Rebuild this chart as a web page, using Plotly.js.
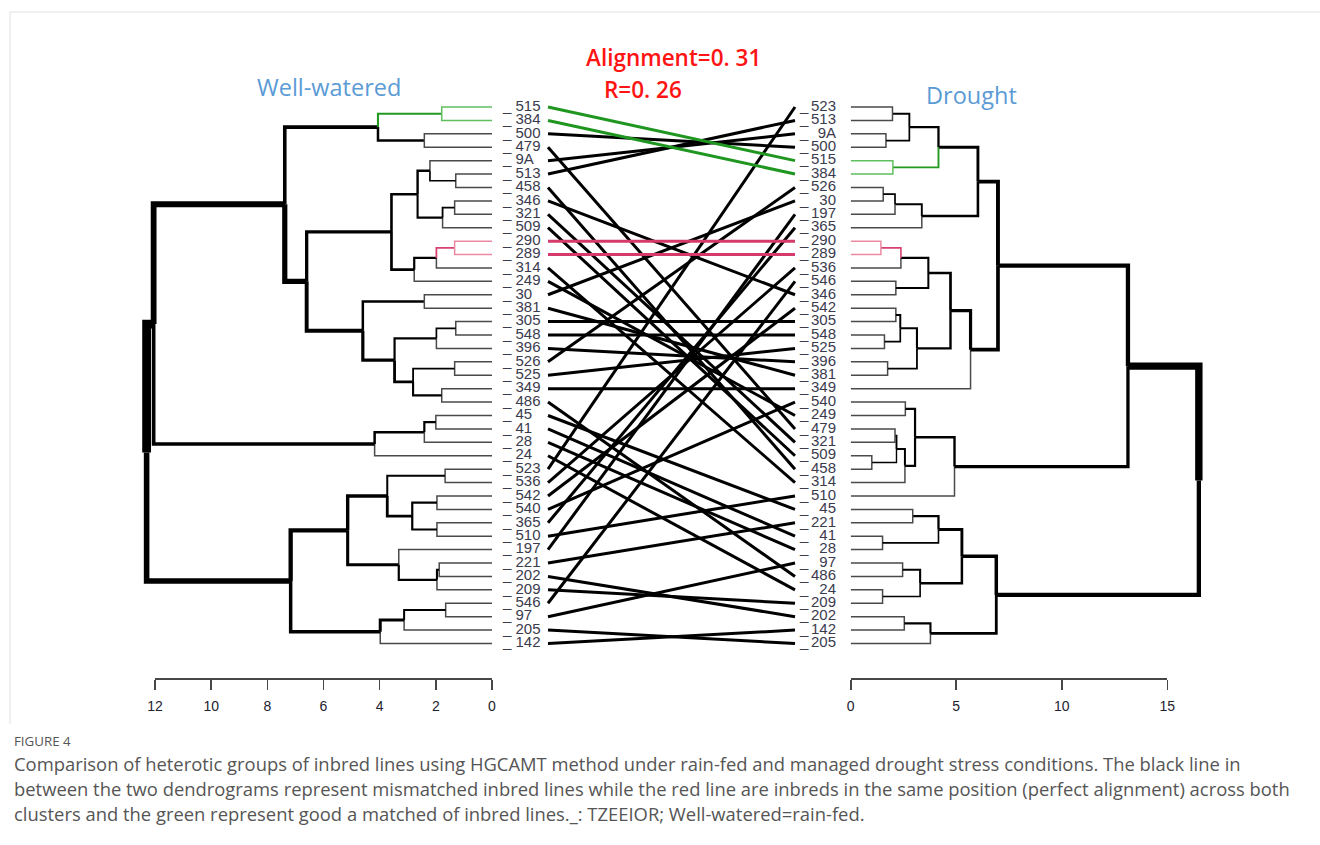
<!DOCTYPE html>
<html>
<head>
<meta charset="utf-8">
<script src="https://cdn.plot.ly/plotly-3.0.1.min.js"></script>
<style>html,body{margin:0;padding:0;background:#fff;}#chart{width:1320px;height:845px;}</style>
</head>
<body>
<div id="chart"></div>
<script>
// ---------------- DATA ----------------
// Well-watered (left) dendrogram: [height, childA, childB], leaves are line names
const L_A     = [4.06, [1.79, '515', '384'], [2.41, '500', '479']];
const L_C46   = [2.21, '9A', [1.29, '513', '458']];
const L_C79   = [1.76, [1.33, '346', '321'], '509'];
const L_C49   = [2.65, L_C46, L_C79];
const L_C1013 = [2.77, [1.98, [1.33, '290', '289'], '314'], '249'];
const L_C413  = [3.58, L_C49, L_C1013];
const L_C1415 = [2.41, '30', '381'];
const L_C1618 = [1.98, [1.29, '305', '548'], '396'];
const L_C1922 = [2.81, [1.33, '526', '525'], [1.79, '349', '486']];
const L_C1422 = [4.60, L_C1415, [3.47, L_C1618, L_C1922]];
const L_C022  = [7.38, L_A, [6.60, L_C413, L_C1422]];
const L_C2326 = [4.18, [2.41, [2.00, '45', '41'], '28'], '24'];
const L_C2732 = [3.73, [1.67, '523', '536'], [2.84, [1.96, '542', '540'], [1.96, '365', '510']]];
const L_C3336 = [3.32, '197', [1.96, [1.88, '221', '202'], '209']];
const L_C3740 = [3.98, [3.13, [1.65, '546', '97'], '205'], '142'];
const leftTree = [12.30, [12.05, L_C022, L_C2326], [7.17, [5.14, L_C2732, L_C3336], L_C3740]];

// Drought (right) dendrogram
const R_C03   = [2.78, [1.98, '523', '513'], [1.67, '9A', '500']];
const R_C05   = [4.16, R_C03, [2.00, '515', '384']];
const R_C69   = [3.37, [2.10, [1.54, '526', '30'], '197'], '365'];
const R_C1014 = [3.68, [2.38, [1.43, '290', '289'], '536'], [2.14, '546', '346']];
const R_C1520 = [3.14, [2.35, [2.14, '542', '305'], [1.60, '548', '525']], [1.75, '396', '381']];
const R_C021  = [6.98, [6.03, R_C05, R_C69], [5.68, [4.73, R_C1014, R_C1520], '349']];
const R_C2229 = [4.92, [3.05, [2.59, '540', '249'], [2.57, [2.17, [2.10, '479', '321'], [1.00, '509', '458']], '314']], '510'];
const R_C3037 = [5.27, [4.16, [2.94, '45', '221'], [1.51, '41', '28']], [3.29, [2.46, '97', '486'], [1.51, '24', '209']]];
const R_C3840 = [3.78, [2.54, '202', '142'], '205'];
const rightTree = [16.50, [13.14, R_C021, R_C2229], [6.90, R_C3037, R_C3840]];

const greenLines = ['515', '384'];   // good match
const redLines   = ['290', '289'];   // perfect alignment
const leftTicks  = [0, 2, 4, 6, 8, 10, 12];
const rightTicks = [0, 5, 10, 15];

// ---------------- HELPERS ----------------
const W = 1320, H = 845;
const px = v => v / W;

function build(tree) {
  const order = [];
  function walk(n) {
    if (typeof n === 'string') { const y = order.length; order.push(n); return {h: 0, y: y, leaves: [n], leaf: true}; }
    const a = walk(n[1]), b = walk(n[2]);
    return {h: n[0], y: (a.y + b.y) / 2, leaves: a.leaves.concat(b.leaves), kids: [a, b], leaf: false};
  }
  const root = walk(tree);
  return {root, order};
}
function sameSet(a, b) { return a.length === b.length && a.every(v => b.includes(v)); }

function edgeTraces(root, maxH, xaxis) {
  const groups = {};
  function colorOf(c) {
    if (c.leaf) {
      if (greenLines.includes(c.leaves[0])) return '#5fbf5f';
      if (redLines.includes(c.leaves[0])) return '#ea8aa2';
      return '#4a4a4a';
    }
    if (sameSet(c.leaves, greenLines)) return '#229a22';
    if (sameSet(c.leaves, redLines)) return '#d8416f';
    return '#000000';
  }
  function rec(n) {
    if (n.leaf) return;
    n.kids.forEach(c => {
      const w = c.leaf ? 1.5 : Math.round(0.9 * (1 + 9 * c.h / maxH) * 10) / 10;
      const col = colorOf(c);
      const key = col + '|' + w;
      if (!groups[key]) groups[key] = {x: [], y: [], col, w};
      const g = groups[key];
      g.x.push(n.h, n.h, c.h, null);
      g.y.push(n.y, c.y, c.y, null);
      rec(c);
    });
  }
  rec(root);
  return Object.values(groups).map(g => ({
    type: 'scatter', mode: 'lines', x: g.x, y: g.y, xaxis: xaxis, yaxis: 'y',
    line: {color: g.col, width: g.w}, hoverinfo: 'skip', connectgaps: false
  }));
}

const L = build(leftTree), R = build(rightTree);
const traces = [];
traces.push(...edgeTraces(L.root, leftTree[0], 'x'));
traces.push(...edgeTraces(R.root, rightTree[0], 'x3'));

// connectors (middle axis x2 spans px 492..850.7)
const mid = p => (p - 492) / (850.7 - 492);
const cx0 = mid(548), cx1 = mid(795);
const conn = {black: {x: [], y: []}, green: {x: [], y: []}, red: {x: [], y: []}};
L.order.forEach((lab, i) => {
  const j = R.order.indexOf(lab);
  const k = greenLines.includes(lab) ? 'green' : (redLines.includes(lab) ? 'red' : 'black');
  conn[k].x.push(cx0, cx1, null);
  conn[k].y.push(i, j, null);
});
const connColor = {black: '#000000', green: '#1f961f', red: '#d43a6a'};
['black', 'green', 'red'].forEach(k => traces.push({
  type: 'scatter', mode: 'lines', x: conn[k].x, y: conn[k].y, xaxis: 'x2', yaxis: 'y',
  line: {color: connColor[k], width: 3}, hoverinfo: 'skip'
}));

const labFont = {family: 'Liberation Sans, Arial, sans-serif', size: 15, color: '#3b3b4e'};
traces.push({
  type: 'scatter', mode: 'text', x: L.order.map(() => mid(503)), y: L.order.map((_, i) => i),
  text: L.order.map(s => '_ ' + s), textposition: 'middle right', textfont: labFont,
  xaxis: 'x2', yaxis: 'y', hoverinfo: 'skip', cliponaxis: false
});
traces.push({
  type: 'scatter', mode: 'text', x: R.order.map(() => mid(800)), y: R.order.map((_, i) => i),
  text: R.order.map(() => '_'), textposition: 'middle right', textfont: labFont,
  xaxis: 'x2', yaxis: 'y', hoverinfo: 'skip', cliponaxis: false
});
traces.push({
  type: 'scatter', mode: 'text', x: R.order.map(() => mid(836)), y: R.order.map((_, i) => i),
  text: R.order, textposition: 'middle left', textfont: labFont,
  xaxis: 'x2', yaxis: 'y', hoverinfo: 'skip', cliponaxis: false
});
// empty traces so that the two height axes get their own subplots and are drawn
traces.push({type: 'scatter', mode: 'lines', x: [], y: [], xaxis: 'x4', yaxis: 'y', hoverinfo: 'skip'});
traces.push({type: 'scatter', mode: 'lines', x: [], y: [], xaxis: 'x5', yaxis: 'y', hoverinfo: 'skip'});

// y mapping: index 0 -> 107px, index 40 -> 643.5px
const y0px = 107, dy = (643.5 - 107) / 40;
const yTopVal = -y0px / dy, yBotVal = (H - y0px) / dy;

const hidden = {visible: false, showgrid: false, zeroline: false, fixedrange: true};
const axLine = {
  visible: true, showline: true, linecolor: '#474747', linewidth: 1.6, ticks: 'outside', ticklen: 10,
  tickwidth: 1.6, tickcolor: '#474747', showgrid: false, zeroline: false, anchor: 'free',
  position: 1 - 678 / H, fixedrange: true, ticklabelstandoff: 5, autorange: false,
  tickfont: {family: 'Liberation Sans, Arial, sans-serif', size: 14, color: '#22222e'}
};

const blue = '#5b9bd5';
const captionFont = {family: 'Open Sans, Noto Sans, sans-serif', size: 18.4, color: '#555555'};
const ann = (x, y, text, font, xanchor) => ({xref: 'paper', yref: 'paper', x: px(x), y: 1 - y / H, text, font,
  showarrow: false, xanchor: xanchor || 'center', yanchor: 'middle'});

const layout = {
  width: W, height: H, margin: {l: 0, r: 0, t: 0, b: 0}, showlegend: false,
  paper_bgcolor: '#ffffff', plot_bgcolor: 'rgba(0,0,0,0)',
  xaxis:  Object.assign({domain: [px(492 - 12.6 * 28.08), px(492)], range: [12.6, 0], anchor: 'y'}, hidden),
  xaxis2: Object.assign({domain: [px(492), px(850.7)], range: [0, 1], anchor: 'y'}, hidden),
  xaxis3: Object.assign({domain: [px(850.7), px(850.7 + 16.8 * 21.1)], range: [0, 16.8], anchor: 'y'}, hidden),
  xaxis4: Object.assign({domain: [px(155), px(492)], range: [12, 0], tickvals: leftTicks}, axLine),
  xaxis5: Object.assign({domain: [px(850.7), px(1167.3)], range: [0, 15], tickvals: rightTicks}, axLine),
  yaxis:  Object.assign({domain: [0, 1], range: [yBotVal, yTopVal], anchor: 'x'}, hidden),
  annotations: [
    ann(673, 57, 'Alignment=0. 31', {family: 'Open Sans, sans-serif', size: 22.5, color: '#ff1414', weight: 600}),
    ann(643, 89, 'R=0. 26', {family: 'Open Sans, sans-serif', size: 22.5, color: '#ff1414', weight: 600}),
    ann(329, 87, 'Well-watered', {family: 'Open Sans, sans-serif', size: 23.5, color: blue}),
    ann(971, 95, 'Drought', {family: 'Open Sans, sans-serif', size: 23.5, color: blue}),
    ann(12, 741, 'FIGURE 4', {family: 'Open Sans, sans-serif', size: 13.3, color: '#555555'}, 'left'),
    ann(12, 763, 'Comparison of heterotic groups of inbred lines using HGCAMT method under rain-fed and managed drought stress conditions. The black line in', captionFont, 'left'),
    ann(12, 788, 'between the two dendrograms represent mismatched inbred lines while the red line are inbreds in the same position (perfect alignment) across both', captionFont, 'left'),
    ann(12, 813, 'clusters and the green represent good a matched of inbred lines._: TZEEIOR; Well-watered=rain-fed.', captionFont, 'left')
  ],
  shapes: [
    {type: 'line', xref: 'paper', yref: 'paper', x0: px(10), x1: 1, y0: 1 - 12 / H, y1: 1 - 12 / H, line: {color: '#e2e2e2', width: 1}},
    {type: 'line', xref: 'paper', yref: 'paper', x0: px(10), x1: px(10), y0: 1 - 12 / H, y1: 1 - 724 / H, line: {color: '#e2e2e2', width: 1}}
  ]
};

Plotly.newPlot('chart', traces, layout, {displayModeBar: false, staticPlot: true});
</script>
</body>
</html>
